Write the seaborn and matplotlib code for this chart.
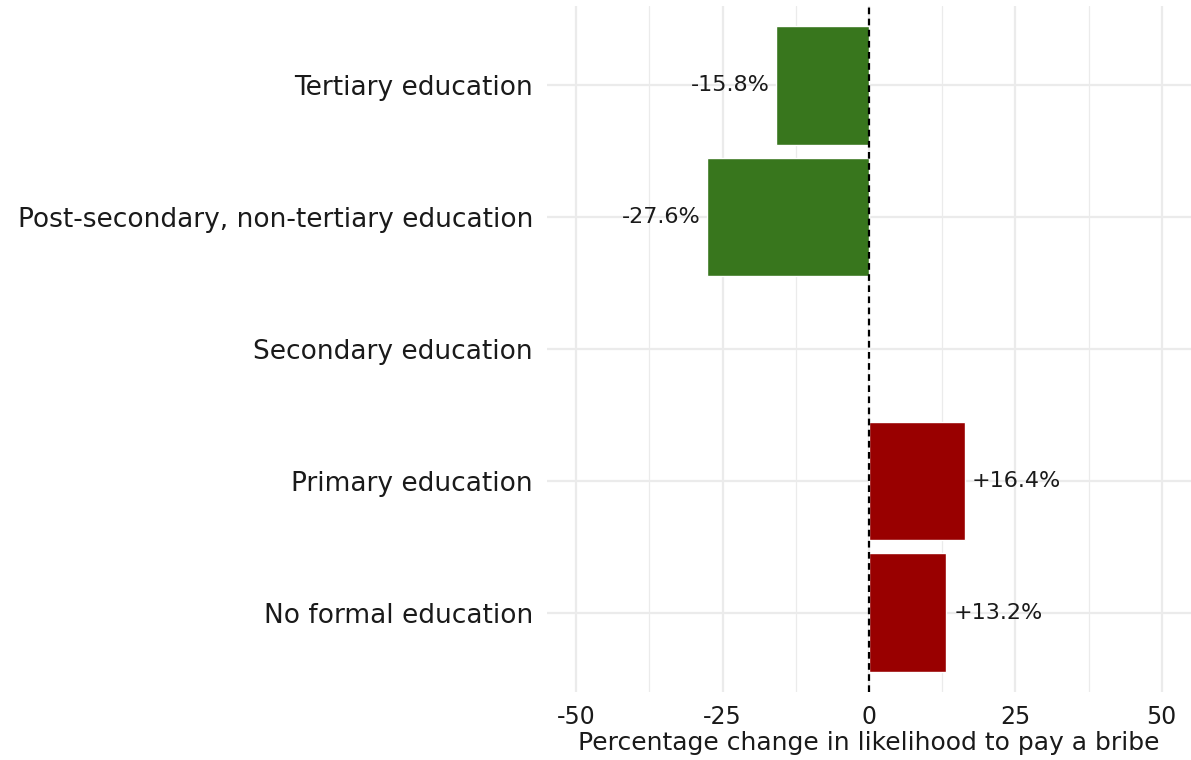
import matplotlib
matplotlib.use("Agg")
import matplotlib.pyplot as plt
import seaborn as sns
import pandas as pd
import numpy as np

# data
categories = ['Tertiary education', 'Post-secondary, non-tertiary education',
              'Secondary education', 'Primary education', 'No formal education']
pct_change = [-15.8, -27.6, 0.0, 16.4, 13.2]
x_ticks = [-50, -25, 0, 25, 50]

df = pd.DataFrame({'Education': categories, 'Change': pct_change})
df['Sign'] = np.where(df['Change'] < 0, 'neg', 'pos')

sns.set_theme(style='whitegrid')
plt.rcParams['font.family'] = ['DejaVu Sans']

fig = plt.figure(figsize=(11.91, 7.6), dpi=100)
ax = fig.add_axes([547 / 1191, 1 - 692 / 760, 1 - 547 / 1191, (692 - 6) / 760])

sns.barplot(data=df, y='Education', x='Change', hue='Sign',
            palette={'neg': '#38761d', 'pos': '#990000'},
            order=categories, dodge=False, width=0.9, legend=False,
            saturation=1, ax=ax)

ax.axvline(0, color='black', linestyle=(0, (3, 2)), linewidth=1.6, zorder=5)

# value labels
for i, v in enumerate(pct_change):
    if v == 0:
        continue
    if v < 0:
        ax.text(v - 1.2, i, f'{v:.1f}%', ha='right', va='center', fontsize=16, color='#1a1a1a')
    else:
        ax.text(v + 1.2, i, f'+{v:.1f}%', ha='left', va='center', fontsize=16, color='#1a1a1a')

ax.set_xlim(-55, 55)
ax.set_ylim(len(categories) - 0.4, -0.6)
ax.set_xticks(x_ticks)
ax.set_xticks([-37.5, -12.5, 12.5, 37.5], minor=True)
ax.grid(True, which='major', color='#ebebeb', linewidth=1.6)
ax.grid(True, which='minor', axis='x', color='#ebebeb', linewidth=0.9)
ax.set_axisbelow(True)
for s in ax.spines.values():
    s.set_visible(False)
ax.tick_params(axis='both', which='both', length=0, colors='#1a1a1a')
ax.tick_params(axis='y', pad=10, labelsize=19)
ax.tick_params(axis='x', pad=9, labelsize=17)
ax.set_xticklabels([str(t) for t in x_ticks])
for lab in ax.get_yticklabels():
    lab.set_verticalalignment('center_baseline')
ax.set_ylabel('')
ax.set_xlabel('Percentage change in likelihood to pay a bribe', fontsize=18, color='#1a1a1a', labelpad=2)

fig.savefig('out.png', dpi=100)
